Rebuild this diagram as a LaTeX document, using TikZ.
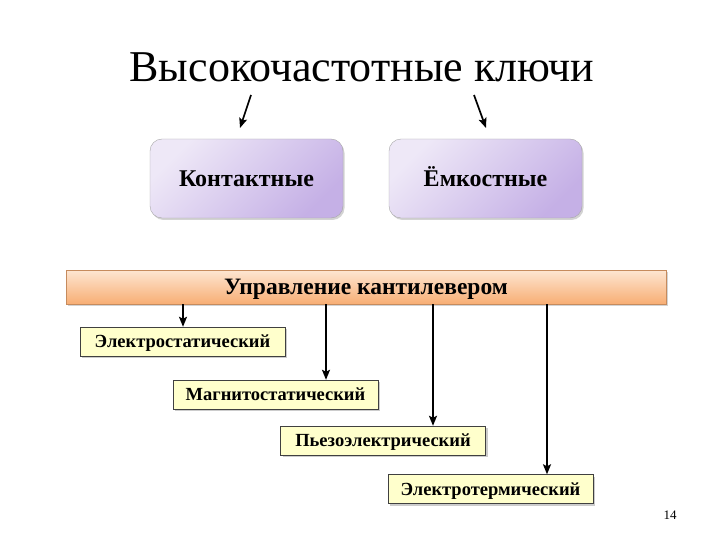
\documentclass[tikz,border=0pt]{standalone}
\usepackage{fontspec}
\setmainfont{Liberation Serif}
\usetikzlibrary{shadows,arrows.meta}
\definecolor{lavA}{HTML}{EEE8F7}
\definecolor{lavB}{HTML}{C5B0E6}
\definecolor{orA}{HTML}{FDE6D2}
\definecolor{orB}{HTML}{F8AE74}
\definecolor{ylw}{HTML}{FFFFCC}
\tikzset{
  kbox/.style={draw=gray!70, rounded corners=12pt, left color=lavA, right color=lavB, shading angle=45,
    minimum width=193pt, minimum height=79pt, font=\fontsize{24}{28}\selectfont\bfseries, inner sep=0pt,
    text height=16pt, text depth=0pt,
    drop shadow={shadow xshift=1.5pt, shadow yshift=-2pt, opacity=0.35}},
  bar/.style={draw=orB!80!black, top color=orA, bottom color=orB, minimum width=600pt, minimum height=34pt,
    font=\fontsize{23.5}{28}\selectfont\bfseries, inner sep=0pt, text height=15.5pt, text depth=0pt,
    drop shadow={shadow xshift=1.5pt, shadow yshift=-2pt, opacity=0.35}},
  ybox/.style={draw=black!75, fill=ylw, minimum width=205pt, minimum height=29pt, inner sep=0pt,
    font=\fontsize{18.5}{22}\selectfont\bfseries, text height=12.2pt, text depth=0pt,
    drop shadow={shadow xshift=2pt, shadow yshift=-2pt, opacity=0.4}},
  arr/.style={-{Stealth[length=10pt,width=8pt,inset=2pt]}, line width=1.7pt},
}
\begin{document}
\begin{tikzpicture}[x=1pt,y=-1pt]
\useasboundingbox (0,0) rectangle (720,540);
\node[font=\fontsize{44}{50}\selectfont, text height=29pt, text depth=0pt, inner sep=0pt] (title) at (362,67) {Высокочастотные ключи};
\node[kbox] (k) at (246.5,178.5) {Контактные};
\node[kbox] (e) at (485.5,178.5) {Ёмкостные};
\coordinate (a1s) at (251,95); \coordinate (a1e) at (240,128);
\coordinate (a2s) at (474,95); \coordinate (a2e) at (486,128);
\draw[arr] (a1s) -- (a1e);
\draw[arr] (a2s) -- (a2e);
\node[bar] (bar) at (366,287) {Управление кантилевером};
\node[ybox] (b1) at (182.5,341.5) {Электростатический};
\node[ybox] (b2) at (275.5,394.5) {Магнитостатический};
\node[ybox] (b3) at (383,440.5) {Пьезоэлектрический};
\node[ybox] (b4) at (490.5,489) {Электротермический};
\draw[arr] (bar.south -| 183,0) -- (b1.north -| 183,0);
\draw[arr] (bar.south -| 326,0) -- (b2.north -| 326,0);
\draw[arr] (bar.south -| 433,0) -- (b3.north -| 433,0);
\draw[arr] (bar.south -| 547,0) -- (b4.north -| 547,0);
\node[font=\fontsize{13}{15}\selectfont] (pg) at (670,515) {14};
\end{tikzpicture}
\end{document}
